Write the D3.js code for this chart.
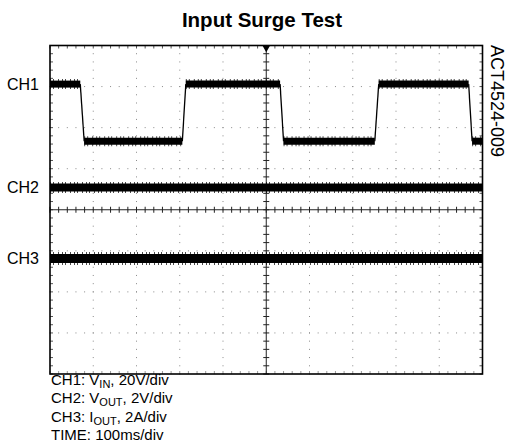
<!DOCTYPE html>
<html><head><meta charset="utf-8">
<script src="https://cdn.jsdelivr.net/npm/d3@7/dist/d3.min.js"></script>
<style>body{margin:0;background:#fff}svg{display:block;font-family:"Liberation Sans",Arial,sans-serif}</style>
</head><body><svg id="c" width="507" height="447"></svg>
<script>
// ---- data (time in ms, level in screen divisions from centre) ----
const title = "Input Surge Test";
const sideNote = "ACT4524-009";
const channelNames = ["CH1", "CH2", "CH3"];
const ch1Time  = [0, 70, 79, 306, 314, 532, 540, 751, 760, 968, 976, 1000];
const ch1Level = [3.06, 3.06, 1.67, 1.67, 3.06, 3.06, 1.67, 1.67, 3.06, 3.06, 1.67, 1.67];
const ch2Time  = [0, 1000];
const ch2Level = [0.54, 0.54];
const ch3Time  = [0, 1000];
const ch3Level = [-1.19, -1.19];
const markerLevels = [3.06, 0.54, -1.19];
const noteLines = [
  [["CH1: V",""],["IN","sub"],[", 20V/div",""]],
  [["CH2: V",""],["OUT","sub"],[", 2V/div",""]],
  [["CH3: I",""],["OUT","sub"],[", 2A/div",""]],
  [["TIME: 100ms/div",""]]
];
const timeDomain = [0, 1000];   // 10 div x 100 ms
const divDomain = [-4, 4];      // 8 vertical divisions

const svg = d3.select("#c");
const L = 50, R = 482.5, T = 45.5, B = 374;
const x = d3.scaleLinear().domain(timeDomain).range([L, R]);
const y = d3.scaleLinear().domain(divDomain).range([B, T]);

// grid dots
const g = svg.append("g");
const minorT = d3.range(0, 1000.01, 20);
const minorV = d3.range(-4, 4.01, 0.2);
const majorT = d3.range(100, 1000, 100).filter(t => t !== 500);
const majorV = d3.range(-3, 4, 1).filter(v => v !== 0);
majorT.forEach(t => {
  g.selectAll(null).data(minorV).join("rect")
    .attr("x", x(t) - 0.5).attr("y", d => y(d) - 0.5).attr("width", 1).attr("height", 1).attr("fill", "#8a8a8a");
});
majorV.forEach(v => {
  g.selectAll(null).data(minorT).join("rect")
    .attr("x", d => x(d) - 0.5).attr("y", y(v) - 0.5).attr("width", 1).attr("height", 1).attr("fill", "#8a8a8a");
});
// border ticks
const tk = svg.append("g").attr("stroke", "#555").attr("stroke-width", 1);
tk.selectAll(null).data(minorT).join("line").attr("x1", d => x(d)).attr("x2", d => x(d)).attr("y1", T).attr("y2", T + 3);
tk.selectAll(null).data(minorT).join("line").attr("x1", d => x(d)).attr("x2", d => x(d)).attr("y1", B).attr("y2", B - 3).attr("stroke", "#999");
tk.selectAll(null).data(minorV).join("line").attr("y1", d => y(d)).attr("y2", d => y(d)).attr("x1", L).attr("x2", L + 3);
tk.selectAll(null).data(minorV).join("line").attr("y1", d => y(d)).attr("y2", d => y(d)).attr("x1", R).attr("x2", R - 3);
// centre axes with ticks
const ca = svg.append("g").attr("stroke", "#222").attr("stroke-width", 1);
ca.append("line").attr("x1", L).attr("x2", R).attr("y1", y(0)).attr("y2", y(0));
ca.append("line").attr("x1", x(500)).attr("x2", x(500)).attr("y1", T).attr("y2", B);
ca.selectAll(null).data(minorT).join("line").attr("x1", d => x(d)).attr("x2", d => x(d)).attr("y1", y(0) - 3).attr("y2", y(0) + 3);
ca.selectAll(null).data(minorV).join("line").attr("y1", d => y(d)).attr("y2", d => y(d)).attr("x1", x(500) - 3).attr("x2", x(500) + 3);

// traces
function drawTrace(ts, ls, core, fuzz) {
  const tg = svg.append("g");
  for (let i = 0; i < ts.length - 1; i++) {
    const flat = ls[i] === ls[i + 1];
    if (flat) {
      tg.append("line").attr("x1", x(ts[i])).attr("x2", x(ts[i + 1])).attr("y1", y(ls[i])).attr("y2", y(ls[i]))
        .attr("stroke", "#000").attr("stroke-width", core);
      tg.append("line").attr("x1", x(ts[i])).attr("x2", x(ts[i + 1])).attr("y1", y(ls[i])).attr("y2", y(ls[i]))
        .attr("stroke", "#000").attr("stroke-width", fuzz).attr("stroke-dasharray", "1,2,1,4,1,3").attr("opacity", 0.7);
    } else {
      tg.append("line").attr("x1", x(ts[i])).attr("x2", x(ts[i + 1])).attr("y1", y(ls[i])).attr("y2", y(ls[i + 1]))
        .attr("stroke", "#000").attr("stroke-width", 1.3);
    }
  }
}
drawTrace(ch1Time, ch1Level, 7, 10);
drawTrace(ch2Time, ch2Level, 8, 11);
drawTrace(ch3Time, ch3Level, 9, 13);

// frame
svg.append("rect").attr("x", L).attr("y", T).attr("width", R - L).attr("height", B - T)
  .attr("fill", "none").attr("stroke", "#000").attr("stroke-width", 1.6);
// trigger marker
svg.append("path").attr("d", d3.symbol(d3.symbolTriangle, 28)()).attr("fill", "#000")
  .attr("transform", `translate(${x(500)},${T + 2}) rotate(180)`);

// texts
svg.append("text").attr("x", 262).attr("y", 27).attr("text-anchor", "middle")
  .attr("font-weight", "bold").attr("font-size", 20.5).text(title);
svg.selectAll(null).data(channelNames).join("text")
  .attr("x", 39).attr("y", (d, i) => y(markerLevels[i])).attr("dy", "0.36em")
  .attr("text-anchor", "end").attr("font-size", 16).text(d => d);
svg.append("text").attr("transform", "translate(491,45) rotate(90)")
  .attr("font-size", 18).text(sideNote);
noteLines.forEach((parts, i) => {
  const t = svg.append("text").attr("x", 51).attr("y", 385 + i * 18.3).attr("font-size", 15);
  parts.forEach(p => {
    const s = t.append("tspan").text(p[0]);
    if (p[1] === "sub") s.attr("font-size", 11).attr("dy", 3);
    else if (t.selectAll("tspan").size() > 1) s.attr("dy", -3);
  });
});
</script></body></html>
